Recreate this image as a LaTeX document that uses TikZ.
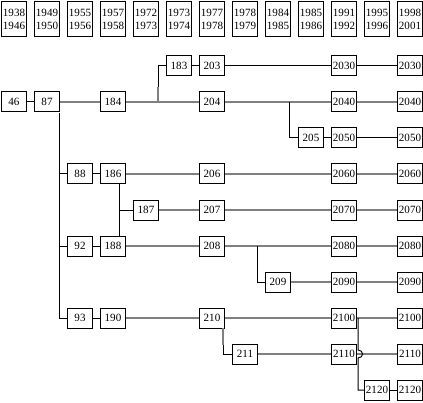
\documentclass[tikz,border=0pt]{standalone}
\usepackage{fontspec}
\setmainfont{Liberation Serif}
\begin{document}
\begin{tikzpicture}[x=0.75pt,y=-0.75pt]
\tikzset{
 bx/.style={draw, line width=0.75pt, minimum width=18.75pt, minimum height=15pt, inner sep=0pt, font=\fontsize{8.3}{9.5}\selectfont},
 yr/.style={bx, minimum height=26.25pt, align=center, font=\fontsize{8.3}{10}\selectfont},
 bl/.style={line width=0.75pt, black},
 gr/.style={line width=1.2pt, black!50},
}
\useasboundingbox (0,0) rectangle (423,402);
% top row
\node[yr] (t0) at (14,19.5) {1938\\1946};
\node[yr] (t1) at (47,19.5) {1949\\1950};
\node[yr] (t2) at (80,19.5) {1955\\1956};
\node[yr] (t3) at (113,19.5) {1957\\1958};
\node[yr] (t4) at (146,19.5) {1972\\1973};
\node[yr] (t5) at (179,19.5) {1973\\1974};
\node[yr] (t6) at (212,19.5) {1977\\1978};
\node[yr] (t7) at (245,19.5) {1978\\1979};
\node[yr] (t8) at (278,19.5) {1984\\1985};
\node[yr] (t9) at (311,19.5) {1985\\1986};
\node[yr] (t10) at (344,19.5) {1991\\1992};
\node[yr] (t11) at (377,19.5) {1995\\1996};
\node[yr] (t12) at (410,19.5) {1998\\2001};
% row 0 (y=66)
\node[bx] (n183) at (179,66) {183};
\node[bx] (n203) at (212,66) {203};
\node[bx] (n2030a) at (344,66) {2030};
\node[bx] (n2030b) at (410,66) {2030};
% row 1 (y=102)
\node[bx] (n46) at (14,102) {46};
\node[bx] (n87) at (47,102) {87};
\node[bx] (n184) at (113,102) {184};
\node[bx] (n204) at (212,102) {204};
\node[bx] (n2040a) at (344,102) {2040};
\node[bx] (n2040b) at (410,102) {2040};
% row 2 (y=138)
\node[bx] (n205) at (311,138) {205};
\node[bx] (n2050a) at (344,138) {2050};
\node[bx] (n2050b) at (410,138) {2050};
% row 3 (y=174)
\node[bx] (n88) at (80,174) {88};
\node[bx] (n186) at (113,174) {186};
\node[bx] (n206) at (212,174) {206};
\node[bx] (n2060a) at (344,174) {2060};
\node[bx] (n2060b) at (410,174) {2060};
% row 4 (y=210)
\node[bx] (n187) at (146,210) {187};
\node[bx] (n207) at (212,210) {207};
\node[bx] (n2070a) at (344,210) {2070};
\node[bx] (n2070b) at (410,210) {2070};
% row 5 (y=246)
\node[bx] (n92) at (80,246) {92};
\node[bx] (n188) at (113,246) {188};
\node[bx] (n208) at (212,246) {208};
\node[bx] (n2080a) at (344,246) {2080};
\node[bx] (n2080b) at (410,246) {2080};
% row 6 (y=282)
\node[bx] (n209) at (278,282) {209};
\node[bx] (n2090a) at (344,282) {2090};
\node[bx] (n2090b) at (410,282) {2090};
% row 7 (y=318)
\node[bx] (n93) at (80,318) {93};
\node[bx] (n190) at (113,318) {190};
\node[bx] (n210) at (212,318) {210};
\node[bx] (n2100a) at (344,318) {2100};
\node[bx] (n2100b) at (410,318) {2100};
% row 8 (y=354)
\node[bx] (n211) at (245,354) {211};
\node[bx] (n2110a) at (344,354) {2110};
\node[bx] (n2110b) at (410,354) {2110};
% row 9 (y=390)
\node[bx] (n2120a) at (377,390) {2120};
\node[bx] (n2120b) at (410,390) {2120};
% junction coordinates
\coordinate (j1) at (158,102);
\coordinate (j1m) at (158,87);
\coordinate (j2) at (289,102);
\coordinate (j3) at (257,246);
\coordinate (j4) at (358,318);
\coordinate (j4a) at (358,350);
\coordinate (j4b) at (358,358);
\coordinate (j87) at (59,113);
\coordinate (j210) at (223,328);
\coordinate (j210m) at (223,345);
% black connectors
\draw[bl] (n46) -- (n87);
\draw[bl] (n183) -- (n203);
\draw[bl] (n203) -- (n2030a);
\draw[bl] (n2030a) -- (n2030b);
\draw[bl] (n205) -- (n2050a);
\draw[bl] (n2050a) -- (n2050b);
\draw[bl] (n88) -- (n186);
\draw[bl] (n92) -- (n188);
\draw[bl] (n93) -- (n190);
\draw[bl] (n2120a) -- (n2120b);
% gray connectors
\draw[gr] (n87) -- (n184);
\draw[gr] (n184) -- (n204);
\draw[gr] (n204) -- (n2040a);
\draw[gr] (n2040a) -- (n2040b);
\draw[gr] (n186) -- (n206);
\draw[gr] (n206) -- (n2060a);
\draw[gr] (n2060a) -- (n2060b);
\draw[gr] (n187) -- (n207);
\draw[gr] (n207) -- (n2070a);
\draw[gr] (n2070a) -- (n2070b);
\draw[gr] (n188) -- (n208);
\draw[gr] (n208) -- (n2080a);
\draw[gr] (n2080a) -- (n2080b);
\draw[gr] (n209) -- (n2090a);
\draw[gr] (n2090a) -- (n2090b);
\draw[gr] (n190) -- (n210);
\draw[gr] (n210) -- (n2100a);
\draw[gr] (n2100a) -- (n2100b);
\draw[gr] (n211) -- (n2110a);
\draw[gr] (n2110a) -- (n2110b);
% branches
\draw[gr, line width=0.9pt] (j1) -- (j1m);
\draw[bl] (j1m) |- (n183.west);
\draw[bl] (j2) |- (n205.west);
\draw[bl] (j3) |- (n209.west);
\draw[bl] (j87) |- (n88.west);
\draw[bl] (j87) |- (n92.west);
\draw[bl] (j87) |- (n93.west);
\draw[bl] ([xshift=4.5pt]n186.south) -- ([xshift=4.5pt]n188.north);
\draw[bl] ([xshift=4.5pt]n186.south) |- (n187.west);
\draw[gr, line width=0.9pt] (j210) -- (j210m);
\draw[bl] (j210m) |- (n211.west);
\draw[bl] (j4) -- (j4a) .. controls (364,350) and (364,358) .. (j4b) |- (n2120a.west);
\end{tikzpicture}
\end{document}
